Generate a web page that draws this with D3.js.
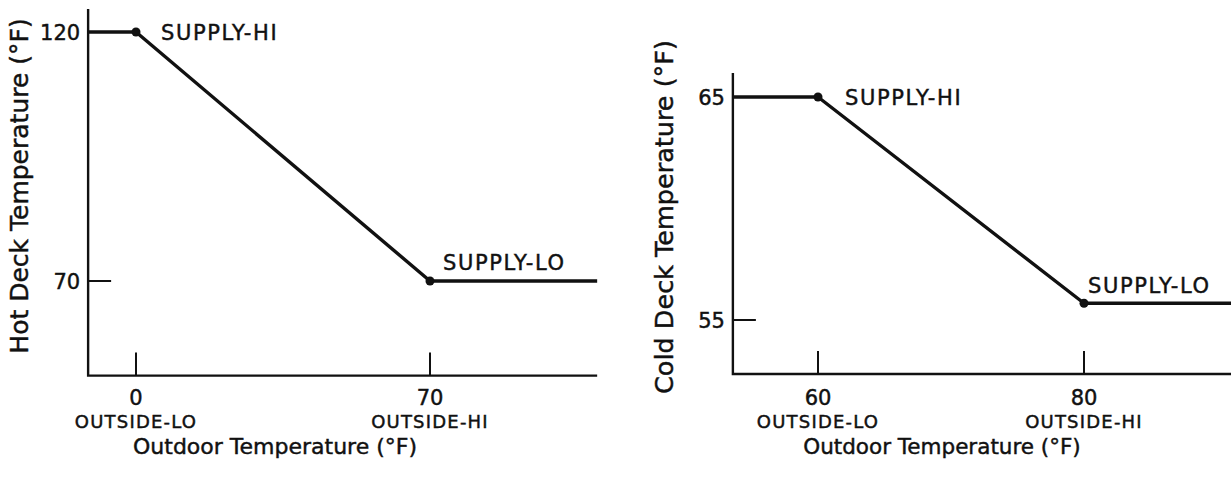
<!DOCTYPE html>
<html>
<head>
<meta charset="utf-8">
<script src="https://cdn.jsdelivr.net/npm/d3@7"></script>
<style>
  html, body { margin: 0; padding: 0; background: #fff; }
  svg { display: block; }
  text { font-family: "DejaVu Sans", sans-serif; fill: #111; stroke: #111; stroke-width: 0.45px; }
</style>
</head>
<body>
<svg id="chart" width="1231" height="477"></svg>
<script>
// ---- Hot deck reset schedule ----
const hotOutdoor = [-11.4, 0, 70, 109.8];      // °F outdoor, line vertices
const hotSupply  = [120, 120, 70, 70];         // °F hot deck supply
const hotBreaks  = [1, 2];                     // vertices drawn as dots
const hotXTicks  = [0, 70];
const hotXNames  = ["OUTSIDE-LO", "OUTSIDE-HI"];
const hotYTicks  = [120, 70];
const hotXExtent = [-11.4, 109.8];
const hotYExtent = [51, 124.6];

// ---- Cold deck reset schedule ----
const coldOutdoor = [53.6, 60, 80, 92];
const coldSupply  = [65, 65, 55.75, 55.75];
const coldBreaks  = [1, 2];
const coldXTicks  = [60, 80];
const coldXNames  = ["OUTSIDE-LO", "OUTSIDE-HI"];
const coldYTicks  = [65, 55];
const coldXExtent = [53.6, 92];
const coldYExtent = [52.58, 66.08];

const pointNames = ["SUPPLY-HI", "SUPPLY-LO"];

const svg = d3.select("#chart");
const ink = "#111";

function drawPanel(p) {
  const g = svg.append("g");
  const x = p.x, y = p.y;
  const x0 = x(p.xExtent[0]), x1 = x(p.xExtent[1]);
  const y0 = y(p.yExtent[0]), y1 = y(p.yExtent[1]);

  // axes frame (left + bottom)
  g.append("path")
    .attr("d", `M${x0},${y1}V${y0}H${x1}`)
    .attr("fill", "none").attr("stroke", ink).attr("stroke-width", 2.4);

  // y ticks point inward
  g.selectAll(".yt").data(p.yTicks).join("line")
    .attr("x1", x0).attr("x2", x0 + 23)
    .attr("y1", d => y(d)).attr("y2", d => y(d))
    .attr("stroke", ink).attr("stroke-width", 2);
  g.selectAll(".ytl").data(p.yTicks).join("text")
    .attr("x", x0 - 8).attr("y", d => y(d)).attr("dy", "0.36em")
    .attr("text-anchor", "end").attr("font-size", 21)
    .text(d => d);

  // x ticks point upward
  g.selectAll(".xt").data(p.xTicks).join("line")
    .attr("x1", d => x(d)).attr("x2", d => x(d))
    .attr("y1", y0).attr("y2", y0 - 23)
    .attr("stroke", ink).attr("stroke-width", 2);
  g.selectAll(".xtl").data(p.xTicks).join("text")
    .attr("x", d => x(d)).attr("y", 405)
    .attr("text-anchor", "middle").attr("font-size", 21)
    .text(d => d);
  g.selectAll(".xtn").data(p.xTicks).join("text")
    .attr("x", d => x(d)).attr("y", 428)
    .attr("text-anchor", "middle").attr("font-size", 18)
    .attr("letter-spacing", 1.2)
    .text((d, i) => p.xNames[i]);

  // axis titles
  g.append("text")
    .attr("x", p.xTitleX).attr("y", 454)
    .attr("text-anchor", "middle").attr("font-size", p.xTitleSize)
    .text("Outdoor Temperature (°F)");
  g.append("text")
    .attr("transform", `translate(${p.yTitleX},${p.yTitleY}) rotate(-90)`)
    .attr("text-anchor", "middle").attr("font-size", p.yTitleSize)
    .text(p.yTitle);

  // reset schedule line
  const pts = p.outdoor.map((v, i) => [x(v), y(p.supply[i])]);
  g.append("path")
    .attr("d", d3.line()(pts))
    .attr("fill", "none").attr("stroke", ink)
    .attr("stroke-width", 3.4).attr("stroke-linejoin", "round");

  // break-point dots and their names
  g.selectAll(".dot").data(p.breaks).join("circle")
    .attr("cx", i => pts[i][0]).attr("cy", i => pts[i][1])
    .attr("r", 4.5).attr("fill", ink);
  g.selectAll(".pn").data(p.breaks).join("text")
    .attr("x", (i, k) => pts[i][0] + p.labelOffsets[k][0])
    .attr("y", (i, k) => pts[i][1] + p.labelOffsets[k][1])
    .attr("dy", "0.36em")
    .attr("font-size", 21).attr("letter-spacing", 1.6)
    .text((i, k) => pointNames[k]);
}

drawPanel({
  x: d3.scaleLinear().domain([0, 70]).range([136, 430]),
  y: d3.scaleLinear().domain([70, 120]).range([281, 32]),
  xExtent: hotXExtent, yExtent: hotYExtent,
  outdoor: hotOutdoor, supply: hotSupply, breaks: hotBreaks,
  xTicks: hotXTicks, xNames: hotXNames, yTicks: hotYTicks,
  xTitleX: 275, xTitleSize: 22,
  yTitle: "Hot Deck Temperature (°F)", yTitleX: 28, yTitleY: 186, yTitleSize: 25,
  labelOffsets: [[25, 0], [13, -19]]
});

drawPanel({
  x: d3.scaleLinear().domain([60, 80]).range([818, 1084]),
  y: d3.scaleLinear().domain([55, 65]).range([320, 97]),
  xExtent: coldXExtent, yExtent: coldYExtent,
  outdoor: coldOutdoor, supply: coldSupply, breaks: coldBreaks,
  xTicks: coldXTicks, xNames: coldXNames, yTicks: coldYTicks,
  xTitleX: 942, xTitleSize: 21.5,
  yTitle: "Cold Deck Temperature (°F)", yTitleX: 673, yTitleY: 217, yTitleSize: 25.5,
  labelOffsets: [[27, 0], [4, -18]]
});
</script>
</body>
</html>
